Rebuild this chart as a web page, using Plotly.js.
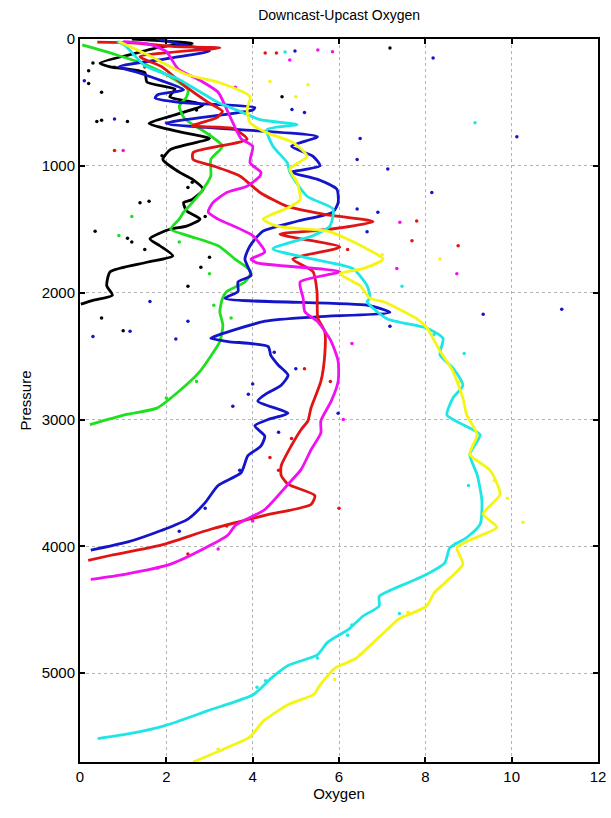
<!DOCTYPE html>
<html>
<head>
<meta charset="utf-8">
<script src="https://cdn.plot.ly/plotly-3.0.1.min.js"></script>
<style>html,body{margin:0;padding:0;background:#fff;}#chart{width:611px;height:818px;}</style>
</head>
<body>
<div id="chart"></div>
<script>
// ---- Data (Oxygen vs Pressure) ----
const blackO = [1.2, 2.6, 1.9, 1.2, 0.46, 0.7, 1.5, 1.55, 2.2, 2.08, 2.85, 2.08, 1.6, 2.34, 3.0, 2.1, 1.92, 2.3, 2.6, 2.85, 2.6, 2.4, 2.47, 2.78, 2.47, 2.08, 1.62, 1.85, 2.15, 1.55, 0.7, 0.62, 0.75, 0.3, 0.02];
const blackP = [0, 35, 60, 120, 190, 220, 265, 340, 395, 455, 520, 610, 665, 735, 785, 870, 950, 1050, 1105, 1185, 1265, 1290, 1355, 1420, 1475, 1500, 1575, 1630, 1710, 1760, 1835, 1945, 2020, 2060, 2090];

const greenO = [0.05, 0.8, 1.5, 2.1, 2.5, 2.47, 2.3, 2.43, 2.9, 3.3, 3.03, 3.03, 2.8, 2.6, 2.4, 2.3, 2.1, 2.5, 3.2, 3.59, 3.96, 3.82, 3.4, 3.3, 3.24, 3.31, 3.24, 3.0, 2.78, 2.3, 1.78, 1.08, 0.23];
const greenP = [47, 120, 200, 300, 400, 455, 530, 630, 735, 845, 950, 1080, 1210, 1290, 1365, 1420, 1500, 1550, 1630, 1735, 1835, 1915, 1990, 2045, 2150, 2255, 2385, 2515, 2620, 2775, 2910, 2960, 3040];

const blueO = [1.8, 2.3, 3.0, 2.1, 0.9, 1.3, 1.9, 2.4, 1.8, 1.74, 2.3, 4.05, 4.0, 2.0, 5.5, 4.9, 5.4, 5.56, 4.9, 5.49, 5.95, 5.98, 5.86, 5.05, 4.24, 3.94, 3.82, 3.96, 3.66, 3.66, 3.36, 6.67, 7.18, 5.5, 4.29, 3.2, 3.03, 3.43, 4.36, 4.42, 4.59, 4.82, 4.66, 4.28, 4.12, 4.82, 4.36, 4.05, 4.28, 4.19, 3.89, 3.73, 3.2, 2.9, 2.5, 1.88, 1.11, 0.25];
const blueP = [0, 40, 95, 150, 220, 260, 330, 400, 440, 465, 500, 540, 560, 665, 770, 845, 925, 1000, 1050, 1105, 1185, 1290, 1365, 1435, 1515, 1630, 1735, 1865, 1915, 1990, 2045, 2100, 2155, 2190, 2225, 2335, 2360, 2385, 2425, 2495, 2570, 2650, 2730, 2805, 2855, 2950, 3000, 3050, 3130, 3210, 3285, 3420, 3520, 3655, 3785, 3875, 3965, 4030];

const redO = [0.4, 1.2, 2.2, 3.24, 1.39, 1.9, 2.43, 2.97, 3.3, 3.17, 2.6, 3.54, 3.87, 2.62, 2.62, 3.08, 3.7, 4.17, 4.8, 5.63, 6.79, 5.79, 4.63, 6.02, 4.93, 5.4, 5.49, 5.51, 5.67, 5.67, 5.58, 5.35, 5.28, 5.12, 4.89, 4.66, 4.66, 4.82, 5.44, 5.35, 4.28, 3.03, 1.88, 0.72, 0.19];
const redP = [25, 30, 60, 70, 140, 220, 370, 500, 570, 620, 685, 705, 790, 895, 950, 1000, 1080, 1210, 1320, 1380, 1440, 1500, 1540, 1640, 1735, 1835, 1990, 2200, 2305, 2490, 2700, 2910, 3010, 3080, 3210, 3365, 3440, 3510, 3600, 3670, 3755, 3865, 3990, 4070, 4110];

const magentaO = [1.0, 1.6, 2.0, 2.27, 2.8, 3.2, 3.36, 3.54, 3.73, 4.0, 3.94, 4.19, 4.17, 3.87, 3.4, 3.08, 2.97, 3.2, 4.0, 4.28, 3.96, 4.1, 6.02, 5.1, 5.17, 5.21, 5.51, 5.82, 5.98, 5.98, 5.82, 5.58, 5.58, 5.35, 5.12, 4.82, 4.28, 3.6, 3.43, 3.03, 2.1, 1.04, 0.25];
const magentaP = [20, 40, 100, 235, 330, 420, 525, 660, 785, 845, 975, 1050, 1080, 1160, 1210, 1290, 1365, 1420, 1550, 1680, 1735, 1765, 1835, 1915, 2045, 2150, 2230, 2385, 2540, 2700, 2855, 3010, 3105, 3240, 3395, 3510, 3710, 3835, 3910, 3990, 4140, 4220, 4260];

const cyanO = [0.86, 1.04, 1.5, 2.27, 3.2, 3.63, 4.17, 5.03, 4.33, 4.47, 4.8, 4.86, 5.26, 5.86, 5.79, 5.4, 4.47, 5.4, 6.32, 6.65, 6.72, 6.65, 7.11, 8.04, 8.41, 8.34, 8.64, 8.87, 8.64, 8.5, 8.87, 9.27, 9.03, 9.2, 9.31, 9.27, 8.96, 8.57, 8.45, 8.0, 7.13, 6.93, 6.93, 6.56, 6.23, 5.74, 5.49, 4.84, 4.43, 4.02, 2.95, 1.97, 1.15, 0.41];
const cyanP = [20, 50, 210, 315, 500, 560, 635, 675, 715, 845, 975, 1050, 1240, 1340, 1475, 1550, 1655, 1735, 1810, 1945, 2045, 2070, 2205, 2280, 2360, 2490, 2595, 2730, 2830, 2965, 3040, 3120, 3275, 3435, 3640, 3825, 3930, 4010, 4130, 4226, 4355, 4394, 4471, 4549, 4652, 4755, 4858, 4936, 5039, 5168, 5297, 5413, 5477, 5516];

const yellowO = [0.9, 1.6, 2.47, 3.24, 3.94, 3.87, 3.94, 4.33, 4.93, 5.26, 4.86, 5.03, 5.1, 4.86, 4.24, 4.56, 5.79, 6.65, 7.02, 6.56, 6.02, 6.49, 6.72, 7.02, 7.8, 8.04, 8.34, 8.64, 8.87, 8.96, 9.2, 9.03, 9.5, 9.73, 9.34, 9.66, 9.03, 8.73, 8.87, 8.44, 8.2, 8.03, 7.38, 7.13, 6.72, 6.39, 5.9, 5.57, 5.41, 4.84, 4.26, 3.93, 3.44, 2.62];
const yellowP = [20, 130, 280, 345, 455, 555, 660, 740, 815, 925, 1025, 1130, 1265, 1325, 1420, 1475, 1520, 1655, 1735, 1810, 1850, 1945, 2045, 2070, 2205, 2280, 2460, 2620, 2830, 2965, 3120, 3275, 3400, 3590, 3745, 3850, 3950, 4010, 4140, 4291, 4368, 4471, 4574, 4652, 4781, 4884, 4961, 5090, 5168, 5245, 5374, 5503, 5581, 5700];

// scattered sample dots
const blackDotO = [0.3, 0.2, 0.39, 0.5, 1.1, 1.39, 1.6, 0.35, 1.1, 1.2, 1.5, 0.2, 0.5, 4.68, 7.18, 1.0, 0.5, 2.5, 2.8, 3.0, 1.9, 2.7, 2.6, 2.5, 2.9];
const blackDotP = [190, 250, 650, 640, 650, 1290, 1280, 1515, 1570, 1600, 1660, 350, 420, 455, 70, 2300, 2200, 1950, 1800, 1720, 920, 560, 1130, 1170, 1400];
const blueDotO = [0.3, 1.16, 2.22, 2.5, 1.62, 8.18, 10.12, 6.49, 6.42, 7.13, 8.15, 6.42, 6.9, 6.65, 9.34, 11.16, 7.18, 5.98, 3.54, 4.98, 4.91, 5.2, 0.1, 0.8, 4.0, 3.9, 4.6, 5.0, 4.5, 3.7, 2.9, 2.3];
const blueDotP = [2345, 2305, 2365, 2225, 2070, 150, 770, 785, 950, 1025, 1210, 1340, 1365, 1520, 2170, 2130, 2265, 2950, 2895, 95, 555, 580, 330, 630, 2720, 2800, 3100, 2600, 2470, 3400, 3700, 3880];
const redDotO = [4.29, 4.55, 7.8, 7.69, 8.76, 0.8, 1.5, 6.0, 5.8, 4.4, 4.6, 3.4, 2.5, 5.2, 4.9, 6.2];
const redDotP = [110, 110, 1435, 1590, 1630, 880, 220, 3700, 2700, 3300, 3400, 3840, 4060, 2600, 3150, 1660];
const magentaDotO = [5.51, 5.85, 4.86, 7.41, 7.34, 8.73, 1.0, 3.6, 2.0, 6.3, 6.1, 4.0, 3.2, 1.8];
const magentaDotP = [86, 100, 165, 1445, 1810, 1850, 880, 380, 660, 2400, 3000, 3800, 4020, 4170];
const greenDotO = [0.9, 2.3, 3.0, 3.1, 1.2, 0.8, 2.7, 3.5, 2.0];
const greenDotP = [1550, 1600, 1850, 2100, 1400, 220, 2700, 2200, 2830];
const cyanDotO = [9.15, 7.46, 4.75, 3.0, 6.3, 6.2, 7.4, 5.5, 4.3, 4.1, 8.9, 9.0, 8.7, 8.2];
const cyanDotP = [660, 1950, 103, 750, 4620, 4700, 4530, 4880, 5060, 5110, 2480, 3520, 3980, 2330];
const yellowDotO = [4.4, 5.28, 5.0, 8.34, 7.0, 10.26, 9.9, 5.9, 6.5, 3.2, 9.6, 8.8, 7.6];
const yellowDotP = [335, 360, 455, 1735, 1700, 3810, 3620, 5050, 4850, 5600, 3480, 2700, 4520];

// ---- Chart ----
const colors = {
  black: '#000000', green: '#1fe01f', blue: '#1414c8', red: '#e01414',
  magenta: '#f010f0', cyan: '#1ee6e6', yellow: '#f5f514'
};
const series = [
  ['black', blackO, blackP, blackDotO, blackDotP],
  ['green', greenO, greenP, greenDotO, greenDotP],
  ['blue', blueO, blueP, blueDotO, blueDotP],
  ['red', redO, redP, redDotO, redDotP],
  ['magenta', magentaO, magentaP, magentaDotO, magentaDotP],
  ['cyan', cyanO, cyanP, cyanDotO, cyanDotP],
  ['yellow', yellowO, yellowP, yellowDotO, yellowDotP]
];
const traces = [];
series.forEach(([name, lo, lp, dO, dP]) => {
  traces.push({x: dO, y: dP, type: 'scatter', mode: 'markers', name: name + ' samples',
    marker: {color: colors[name], size: 3.5}, showlegend: false});
});
series.forEach(([name, lo, lp]) => {
  traces.push({x: lo, y: lp, type: 'scatter', mode: 'lines', name: name,
    line: {color: colors[name], width: 2.8, shape: 'spline', smoothing: 0.6}, showlegend: false});
});

const fontFam = 'Liberation Sans, Arial, Helvetica, sans-serif';
const layout = {
  width: 611, height: 818,
  margin: {l: 80, r: 13, t: 39, b: 56},
  paper_bgcolor: '#ffffff', plot_bgcolor: '#ffffff',
  title: {text: 'Downcast-Upcast Oxygen', font: {family: fontFam, size: 14, color: '#000'}, x: 0.555, xanchor: 'center', y: 0.988, yanchor: 'top'},
  xaxis: {
    range: [0, 12], tickvals: [0, 2, 4, 6, 8, 10, 12], ticktext: ['0','2','4','6','8','10','12'],
    showgrid: true, gridcolor: '#b4b4b4', griddash: 'dot', gridwidth: 1,
    showline: true, linecolor: '#000', linewidth: 2, mirror: 'ticks',
    ticks: 'inside', ticklen: 5, tickwidth: 2, tickcolor: '#000',
    zeroline: false,
    tickfont: {family: fontFam, size: 15, color: '#000'},
    title: {text: 'Oxygen', font: {family: fontFam, size: 15, color: '#000'}, standoff: 3}
  },
  yaxis: {
    range: [5700, 0], tickvals: [0, 1000, 2000, 3000, 4000, 5000],
    showgrid: true, gridcolor: '#b4b4b4', griddash: 'dot', gridwidth: 1,
    showline: true, linecolor: '#000', linewidth: 2, mirror: 'ticks',
    ticks: 'inside', ticklen: 5, tickwidth: 2, tickcolor: '#000',
    zeroline: false,
    tickfont: {family: fontFam, size: 15, color: '#000'},
    title: {text: 'Pressure', font: {family: fontFam, size: 15, color: '#000'}, standoff: 6}
  }
};
Plotly.newPlot('chart', traces, layout, {displayModeBar: false, staticPlot: true});
</script>
</body>
</html>
